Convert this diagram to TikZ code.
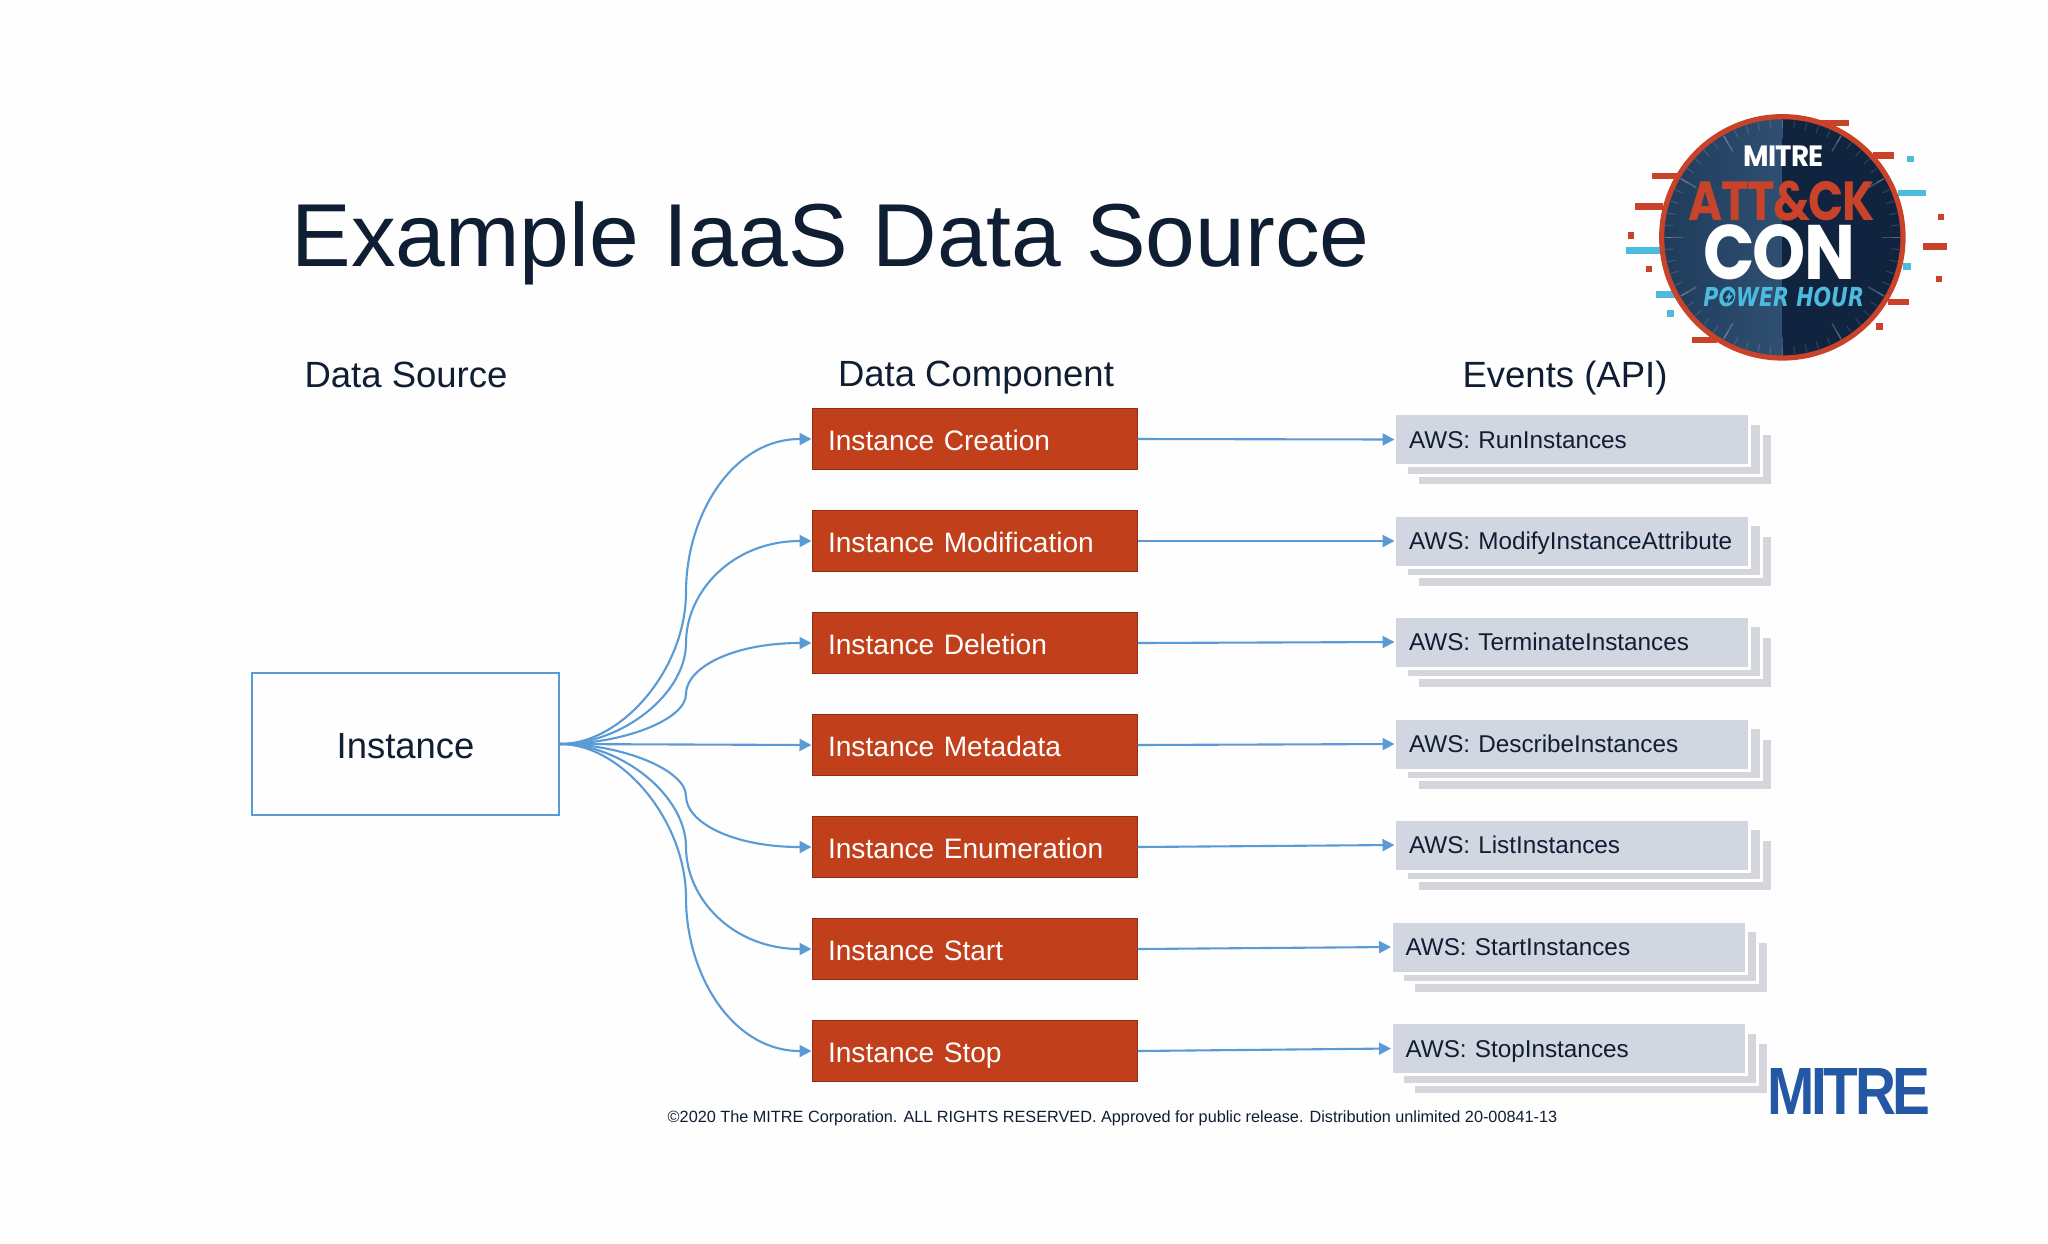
\documentclass[tikz,border=0pt]{standalone}
\usepackage{fontspec}
\usepackage{graphicx}
\usetikzlibrary{arrows.meta}
\setmainfont{Liberation Sans}
\newfontfamily\badgefont{Poppins}[LetterSpace=-3]
\newfontfamily\hourfont{DejaVu Sans}
\newcommand{\fsz}[1]{\fontsize{#1}{#1}\selectfont}
\newcommand{\fitbox}[3]{\resizebox{#1}{#2}{#3}}
\definecolor{ink}{HTML}{101E33}
\definecolor{linkblue}{HTML}{5B9BD5}
\definecolor{redfill}{HTML}{C23F1C}
\definecolor{redline}{HTML}{8F2D15}
\definecolor{evfront}{HTML}{D2D6E1}
\definecolor{evback}{HTML}{D5D6DC}
\definecolor{bdgred}{HTML}{C8432A}
\definecolor{bdgblue}{HTML}{4DBBDD}
\definecolor{bdgdark}{HTML}{10243F}
\definecolor{bdgmidA}{HTML}{1F3B5B}
\definecolor{bdgmidB}{HTML}{2F5072}
\definecolor{mitreblue}{HTML}{2458A4}
\tikzset{
  conn/.style={draw=linkblue,line width=1.05pt,-{Triangle[length=6pt,width=6pt]}},
  head/.style={anchor=base,inner sep=0pt,text=ink,font=\fsz{18.25pt}},
  srcbox/.style={draw=linkblue,line width=1pt,minimum width=153.5pt,minimum height=71pt,inner sep=0pt,text=ink,font=\fsz{18.2pt},text height=14.5pt,text depth=0pt},
  compbox/.style={fill=redfill,draw=redline,line width=.5pt,text=white,font=\fsz{14.07pt},text width=146.5pt,inner xsep=8pt,inner ysep=0pt,minimum height=30.5pt,text height=11pt,text depth=0pt,align=left},
  evbox/.style={fill=evfront,draw=white,line width=1.5pt,outer sep=0pt,text=ink,font=\fsz{12.15pt},text width=163pt,inner xsep=7.25pt,inner ysep=0pt,minimum height=26pt,text height=8.7pt,text depth=0pt,align=left},
  evrear/.style={fill=evback,draw=white,line width=1.5pt},
  rbar/.style={fill=bdgred},
  bbar/.style={fill=bdgblue},
  badgetxt/.style={inner sep=0pt,font=\badgefont\bfseries}
}
\begin{document}
\begin{tikzpicture}[x=.5pt,y=-.5pt]
\useasboundingbox (0,0) rectangle (2048,1243);
\fill[white!99.6!black] (0,0) rectangle (2048,1243);

\node[anchor=base west,inner sep=0pt,text=ink,font=\fsz{44.7pt}] (title) at (291,266) {Example IaaS Data Source};
\node[head] (h1) at (406,387) {Data Source};
\node[head] (h2) at (976,386) {Data Component};
\node[head] (h3) at (1565,387) {Events (API)};

\node[srcbox] (inst) at (405.5,744) {Instance};

\foreach \n/\y/\t in {1/439/Instance Creation,2/541/Instance Modification,3/643/Instance Deletion,4/745/Instance Metadata,5/847/Instance Enumeration,6/949/Instance Start,7/1051/Instance Stop}
  \node[compbox] (r\n) at (974.5,\y) {\t};

\foreach \n/\x/\y/\t in {1/1572/439.5/AWS: RunInstances,2/1572/541/AWS: ModifyInstanceAttribute,3/1572/642/AWS: TerminateInstances,4/1572/744/AWS: DescribeInstances,5/1572/845/AWS: ListInstances,6/1568.5/947/AWS: StartInstances,7/1568.5/1048.5/AWS: StopInstances}{
  \draw[evrear] (\x-176.5+21.5,\y-24.5+20-1.5) rectangle ++(355,52);
  \draw[evrear] (\x-176.5+10.5,\y-24.5+9.5-1.5) rectangle ++(355,52);
  \node[evbox] (e\n) at (\x,\y) {\t};
}

\foreach \n in {1,...,7}
  \draw[conn] (r\n.east) -- (e\n.west);

\draw[conn] (inst.east) .. controls +(62,0) and (686,669) .. (686,592) .. controls (686,516) and (732,439) .. (r1.west);
\draw[conn] (inst.east) .. controls +(62,0) and (686,694) .. (686,643) .. controls (686,592) and (732,541) .. (r2.west);
\draw[conn] (inst.east) .. controls +(62,0) and (686,720) .. (686,694) .. controls (686,668) and (732,643) .. (r3.west);
\draw[conn] (inst.east) -- (r4.west);
\draw[conn] (inst.east) .. controls +(62,0) and (686,770) .. (686,796) .. controls (686,822) and (732,847) .. (r5.west);
\draw[conn] (inst.east) .. controls +(62,0) and (686,796) .. (686,847) .. controls (686,898) and (732,949) .. (r6.west);
\draw[conn] (inst.east) .. controls +(62,0) and (686,821) .. (686,898) .. controls (686,974) and (732,1051) .. (r7.west);

\node[inner sep=0pt,text=ink,font=\fsz{8.13pt}] (foot) at (1112.5,1118) {©2020 The MITRE Corporation. ALL RIGHTS RESERVED. Approved for public release. Distribution unlimited 20-00841-13};

% MITRE logo
\node[inner sep=0pt,text=mitreblue] (logo) at (1849,1091) {\fitbox{81.5pt}{23pt}{\fontspec{Liberation Sans}[LetterSpace=-6]\bfseries MITRE}};

% badge
\begin{scope}[shift={(1580,90)},x=.16667pt,y=-.16667pt]
  \foreach \a/\b/\c/\d in {215/250/295/268,165/340/250/360,720/90/807/108,880/187/943/207,1028/460/1100/480,925/627/988/645,335/740/410/758,143/427/163/446,197/528/217/547,1074/372/1093/391,1067/558/1087/577,888/699/908/720}
    \fill[rbar] (\a,\b) rectangle (\c,\d);
  \foreach \a/\b/\c/\d in {137/471/240/491,955/299/1038/319,228/603/285/623,970/520/993/540,982/197/1002/215,260/660/281/681}
    \fill[bbar] (\a,\b) rectangle (\c,\d);
  \begin{scope}
    \clip (607,442) circle[radius=362];
    \fill[left color=bdgmidA,right color=bdgmidB] (240,70) rectangle (607,815);
    \fill[bdgdark] (607,70) rectangle (980,815);
    \foreach \a in {0,6,...,354}
      \draw[white,opacity=.14,line width=.5pt] ([shift={(607,442)}]\a:328) -- ([shift={(607,442)}]\a:352);
    \foreach \a in {0,30,...,330}
      \draw[white,opacity=.2,line width=.8pt] ([shift={(607,442)}]\a:298) -- ([shift={(607,442)}]\a:352);
  \end{scope}
  \draw[bdgred,line width=2.6pt] (607,442) circle[radius=362];
  \node[badgetxt,text=white] (bm) at (610,199) {\fitbox{40pt}{10.3pt}{MITRE}};
  \node[badgetxt,text=bdgred] (ba) at (605,334) {\fitbox{93.3pt}{19.7pt}{ATT\&CK}};
  \node[badgetxt,text=white] (bc) at (597,488) {\fitbox{75.8pt}{27.5pt}{CON}};
  \node[inner sep=0pt,text=bdgblue] (bp) at (611,621) {\fitbox{80.3pt}{9.7pt}{\hourfont\bfseries\itshape POWER HOUR}};
  \fill[bdgmidA] (445,621) circle[radius=17];
  \fill[bdgblue] (452,603) -- (436,625) -- (446,625) -- (441,640) -- (458,616) -- (448,616) -- cycle;
\end{scope}
\end{tikzpicture}
\end{document}
